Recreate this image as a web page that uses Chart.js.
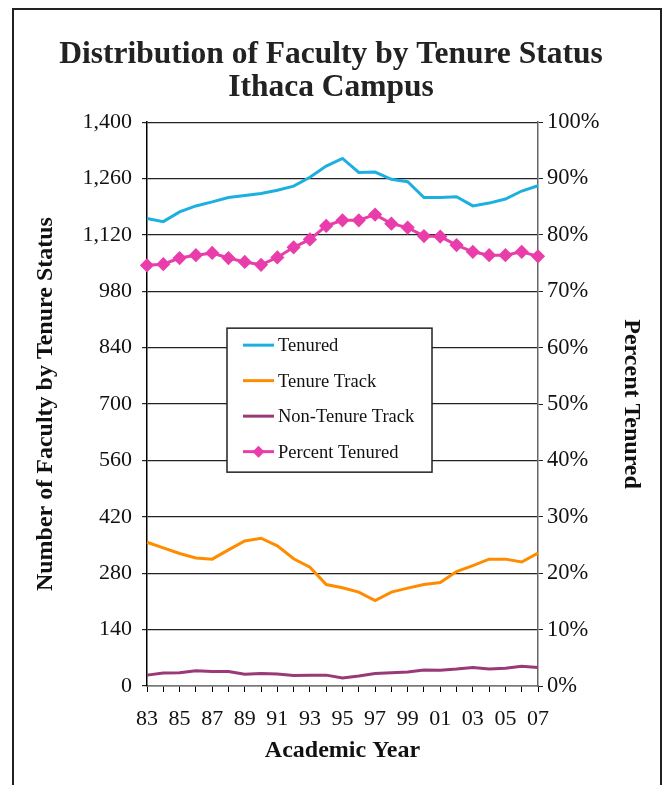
<!DOCTYPE html>
<html>
<head>
<meta charset="utf-8">
<script src="https://cdn.jsdelivr.net/npm/chart.js@4.4.1/dist/chart.umd.min.js"></script>
<style>
  html, body { margin: 0; padding: 0; background: #fff; }
  #frame {
    position: absolute; left: 12px; top: 8px; width: 646px; height: 800px;
    border: 2px solid #222; border-bottom: none;
  }
  #wrap { position: absolute; left: 0; top: 0; width: 662px; height: 785px; }
</style>
</head>
<body>
<div id="frame"></div>
<div id="wrap"><canvas id="myChart" width="662" height="785"></canvas></div>
<script>
// Anni accademici 1983-2007
const years = ['83','84','85','86','87','88','89','90','91','92','93','94','95',
               '96','97','98','99','00','01','02','03','04','05','06','07'];

const tenured = [1161, 1153, 1177, 1192, 1202, 1213, 1218, 1223, 1231, 1241, 1263, 1291, 1310,
                 1275, 1276, 1258, 1252, 1213, 1213, 1215, 1192, 1199, 1209, 1229, 1242];

const tenureTrack = [357, 343, 329, 318, 315, 338, 360, 367, 348, 316, 295, 252, 244,
                     233, 212, 233, 243, 252, 257, 284, 299, 315, 315, 308, 330];

const nonTenureTrack = [27, 32, 33, 38, 36, 36, 29, 31, 30, 26, 27, 27, 20,
                        25, 31, 33, 35, 40, 39, 42, 46, 42, 44, 49, 46];

const percentTenured = [74.6, 74.8, 75.9, 76.4, 76.8, 75.9, 75.2, 74.7, 76.0, 77.8, 79.2, 81.6, 82.6,
                        82.6, 83.6, 82.0, 81.3, 79.8, 79.7, 78.2, 77.0, 76.4, 76.4, 77.0, 76.2];

const SERIF = '"Liberation Serif", "DejaVu Serif", serif';

// Legenda disegnata dentro l'area del grafico
const legendBox = {
  id: 'legendBox',
  afterDatasetsDraw(chart) {
    const { ctx, chartArea } = chart;
    const x = chartArea.left + 80, y = chartArea.top + 206, w = 205, h = 144;
    ctx.save();
    ctx.fillStyle = '#fff';
    ctx.fillRect(x, y, w, h);
    ctx.strokeStyle = '#222';
    ctx.lineWidth = 1.5;
    ctx.strokeRect(x, y, w, h);
    ctx.font = '18.5px ' + SERIF;
    ctx.textBaseline = 'middle';
    chart.data.datasets.forEach((ds, i) => {
      const ry = y + 17 + i * 35.5;
      ctx.strokeStyle = ds.borderColor;
      ctx.lineWidth = 3;
      ctx.beginPath();
      ctx.moveTo(x + 16, ry);
      ctx.lineTo(x + 47, ry);
      ctx.stroke();
      if (ds.pointRadius > 0) {
        ctx.fillStyle = ds.pointBackgroundColor;
        ctx.beginPath();
        ctx.moveTo(x + 31.5, ry - 6);
        ctx.lineTo(x + 37.5, ry);
        ctx.lineTo(x + 31.5, ry + 6);
        ctx.lineTo(x + 25.5, ry);
        ctx.closePath();
        ctx.fill();
      }
      ctx.fillStyle = '#111';
      ctx.fillText(ds.label, x + 51, ry + 1);
    });
    ctx.restore();
  }
};

const ctx = document.getElementById('myChart').getContext('2d');

const chart = new Chart(ctx, {
  type: 'line',
  data: {
    labels: years,
    datasets: [
      {
        label: 'Tenured',
        data: tenured,
        yAxisID: 'y',
        borderColor: '#1DAFE0',
        borderWidth: 3,
        pointRadius: 0,
        tension: 0
      },
      {
        label: 'Tenure Track',
        data: tenureTrack,
        yAxisID: 'y',
        borderColor: '#FF8C00',
        borderWidth: 3,
        pointRadius: 0,
        tension: 0
      },
      {
        label: 'Non-Tenure Track',
        data: nonTenureTrack,
        yAxisID: 'y',
        borderColor: '#993A77',
        borderWidth: 3,
        pointRadius: 0,
        tension: 0
      },
      {
        label: 'Percent Tenured',
        data: percentTenured,
        yAxisID: 'y1',
        borderColor: '#E83DAA',
        backgroundColor: '#E83DAA',
        pointBackgroundColor: '#E83DAA',
        pointBorderColor: '#E83DAA',
        borderWidth: 3,
        pointStyle: 'rectRot',
        pointRadius: 5,
        tension: 0
      }
    ]
  },
  options: {
    responsive: false,
    animation: false,
    layout: { padding: 0 },
    scales: {
      x: {
        type: 'category',
        offset: false,
        afterFit(scale) { scale.height = 99; },
        grid: { drawOnChartArea: false, drawTicks: true, tickLength: 6, color: '#000' },
        border: { display: true, color: '#777', width: 1.5 },
        ticks: {
          autoSkip: false,
          maxRotation: 0,
          padding: 14,
          color: '#111',
          font: { family: SERIF, size: 22 },
          callback: function(value, index) {
            return index % 2 === 0 ? this.getLabelForValue(value) : '';
          }
        },
        title: {
          display: true,
          text: 'Academic Year',
          color: '#111',
          font: { family: SERIF, size: 24, weight: 'bold' },
          padding: { top: 0, bottom: 20 }
        }
      },
      y: {
        position: 'left',
        min: 0,
        max: 1400,
        afterFit(scale) { scale.width = 147; },
        grid: { color: '#222', lineWidth: 1.2, tickLength: 5 },
        border: { display: true, color: '#000', width: 1.5 },
        ticks: {
          stepSize: 140,
          padding: 10,
          color: '#111',
          font: { family: SERIF, size: 22 },
          callback: v => v.toLocaleString('en-US')
        },
        title: {
          display: true,
          text: 'Number of Faculty by Tenure Status',
          color: '#111',
          font: { family: SERIF, size: 24, weight: 'bold' },
          padding: { top: 31, bottom: 0 }
        }
      },
      y1: {
        position: 'right',
        min: 0,
        max: 100,
        afterFit(scale) { scale.width = 124; },
        grid: { drawOnChartArea: false, color: '#222', tickLength: 5 },
        border: { display: true, color: '#666', width: 1.5 },
        ticks: {
          stepSize: 10,
          padding: 4,
          color: '#111',
          font: { family: SERIF, size: 22.5 },
          callback: v => v + '%'
        },
        title: {
          display: true,
          text: 'Percent Tenured',
          color: '#111',
          font: { family: SERIF, size: 24, weight: 'bold' },
          padding: { top: 16, bottom: 0 }
        }
      }
    },
    plugins: {
      legend: { display: false },
      tooltip: { enabled: false },
      title: {
        display: true,
        text: ['Distribution of Faculty by Tenure Status', 'Ithaca Campus'],
        color: '#222',
        font: { family: SERIF, size: 31.5, weight: 'bold', lineHeight: 1.05 },
        padding: { top: 38, bottom: 18 }
      }
    }
  },
  plugins: [legendBox]
});
</script>
</body>
</html>
